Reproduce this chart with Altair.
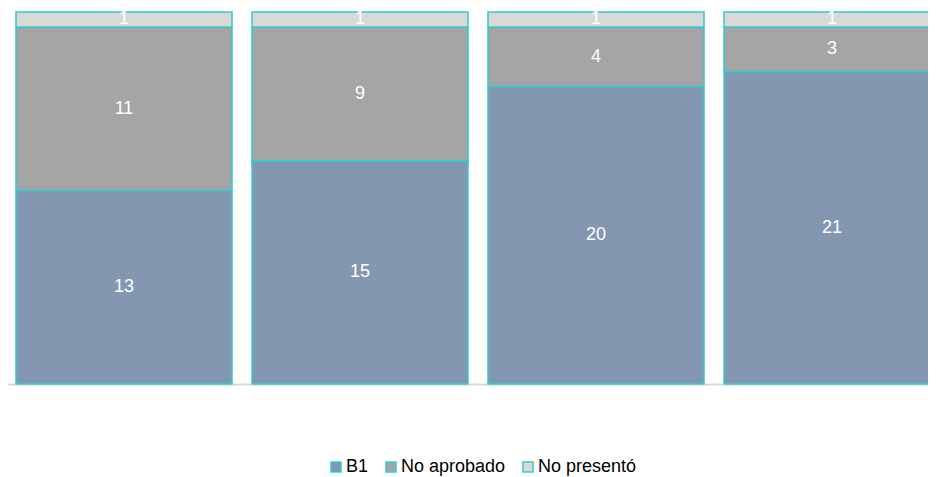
import altair as alt
import pandas as pd

categories = ["1", "2", "3", "4"]
series = ["B1", "No aprobado", "No presentó"]
b1 = [13, 15, 20, 21]
no_aprobado = [11, 9, 4, 3]
no_presento = [1, 1, 1, 1]
colors = ["#8497B0", "#A5A5A5", "#D9D9D9"]

rows = []
for i, c in enumerate(categories):
    for j, (s, vals) in enumerate(zip(series, [b1, no_aprobado, no_presento])):
        rows.append({"cat": c, "serie": s, "idx": j, "value": vals[i]})
df = pd.DataFrame(rows)

FONT = "Liberation Sans"
TEAL = "#33CCCC"

base = alt.Chart(df).transform_stack(
    stack="value", groupby=["cat"], sort=[alt.SortField("idx", order="ascending")], as_=["v0", "v1"]
).transform_calculate(mid="(datum.v0 + datum.v1) / 2")

x = alt.X(
    "cat:N",
    sort=categories,
    scale=alt.Scale(range=[-2, 942], paddingInner=20 / 236, paddingOuter=10 / 236),
    axis=alt.Axis(title=None, labels=False, ticks=False, domain=True, domainColor="#D9D9D9", domainWidth=2),
)
yscale = alt.Scale(domain=[0, 25 * 376 / 372], nice=False)

bars = base.mark_bar(stroke=TEAL, strokeWidth=1.5).encode(
    x=x,
    y=alt.Y("v0:Q", scale=yscale, axis=None),
    y2="v1:Q",
    color=alt.Color(
        "serie:N",
        scale=alt.Scale(domain=series, range=colors),
        legend=alt.Legend(
            title=None,
            orient="none",
            direction="horizontal",
            legendX=319,
            legendY=450,
            symbolType="square",
            symbolSize=100,
            symbolStrokeColor=TEAL,
            symbolStrokeWidth=1.5,
            labelFont=FONT,
            labelFontSize=18,
            labelColor="#000000",
            labelOffset=1,
            columnPadding=13,
            labelLimit=300,
        ),
    ),
)

labels = base.mark_text(color="white", font=FONT, fontSize=18, baseline="middle").encode(
    x=x,
    y=alt.Y("mid:Q", scale=yscale, axis=None),
    text="value:Q",
)

chart = (
    alt.layer(bars, labels)
    .properties(
        width=920,
        height=376,
        autosize=alt.AutoSizeParams(type="none"),
        padding={"left": 0, "top": 0, "right": 0, "bottom": 93},
    )
    .configure_view(stroke=None)
)

chart.save("out.html", embed_options={"renderer": "svg", "actions": False})
